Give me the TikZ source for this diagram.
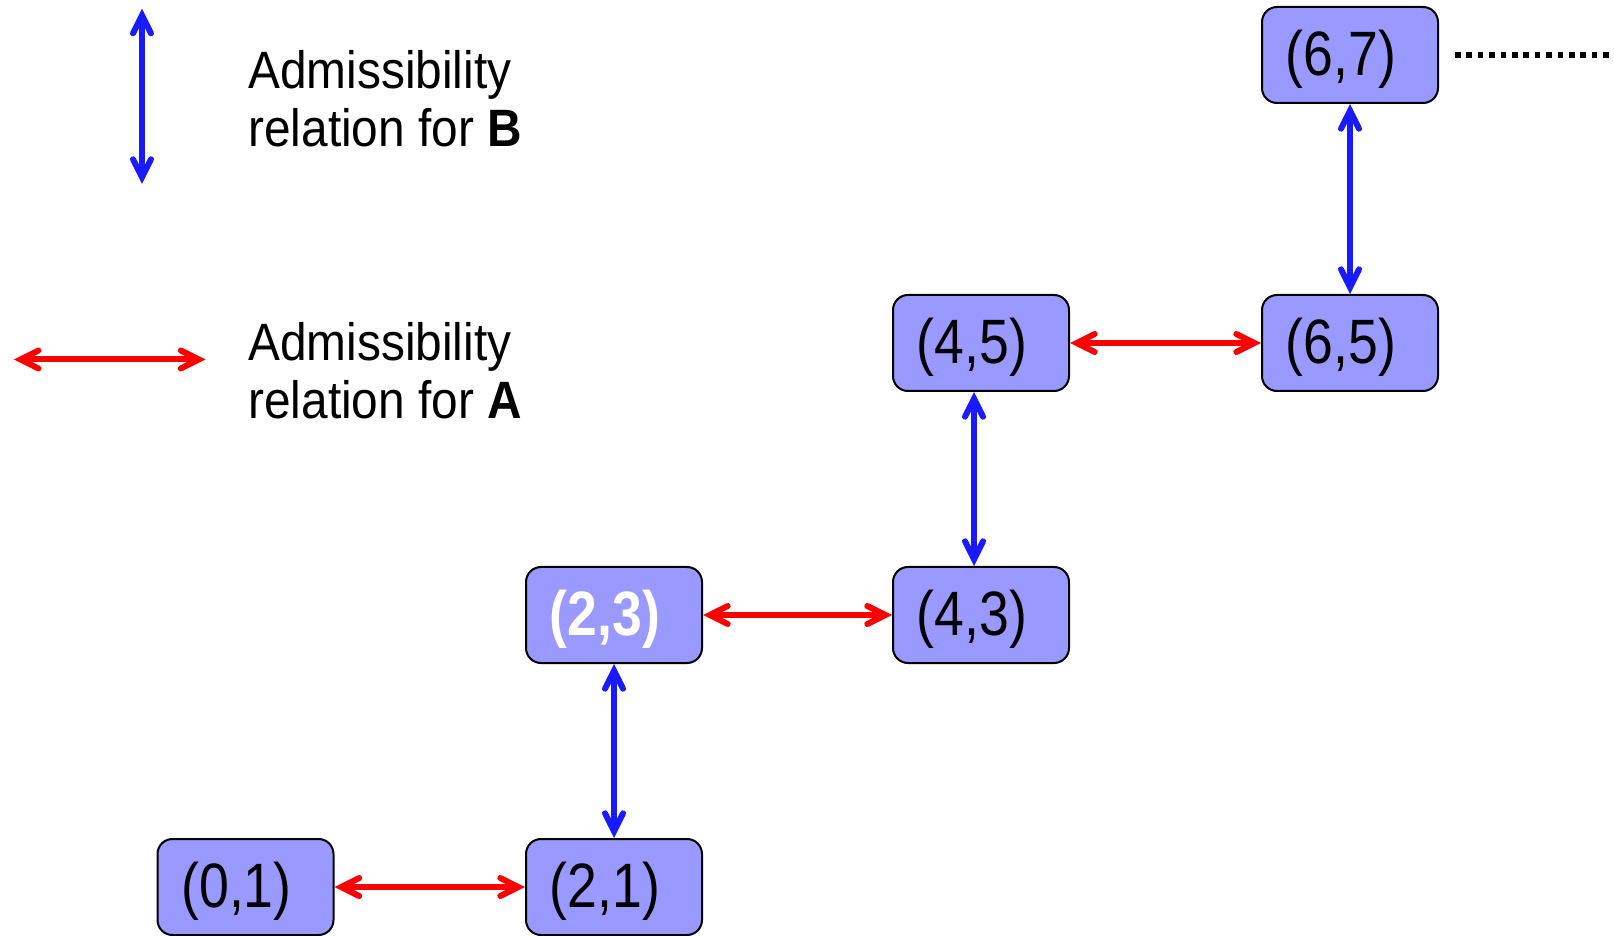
\documentclass[tikz,border=0pt]{standalone}
\usepackage{fontspec}
\setmainfont{Liberation Sans}
\usetikzlibrary{arrows.meta}
\definecolor{boxfill}{RGB}{153,153,255}
\definecolor{arrblue}{RGB}{26,26,255}
\definecolor{arrred}{RGB}{255,0,0}
\newcommand{\nodetxt}[1]{\raisebox{-2pt}[\height][\depth]{\scalebox{1}[1.17]{#1}}\kern9pt}
\newcommand{\legtxt}[2]{\scalebox{1}[1.1]{\fontsize{23.9pt}{26.3pt}\selectfont\begin{tabular}[t]{@{}l@{}}#1\\#2\end{tabular}}}
\tikzset{
  barb/.tip={Straight Barb[length=9pt,width=9pt,line cap=round,line join=miter]},
  state/.style={draw=black, line width=1pt, fill=boxfill, rounded corners=7.5pt,
    minimum width=88pt, minimum height=48pt, inner sep=0pt,
    font=\fontsize{26.8pt}{30pt}\selectfont},
  relA/.style={draw=arrred, line width=3pt, barb-barb},
  relB/.style={draw=arrblue, line width=3pt, barb-barb},
  legend/.style={anchor=base west, inner sep=0pt},
  etc/.style={draw=black, line width=2.8pt, dash pattern=on 2.8pt off 2.9pt}
}
\begin{document}
\begin{tikzpicture}[x=0.5pt,y=-0.5pt]
\useasboundingbox (0,0) rectangle (1614,936);
% legend
\coordinate (bTop) at (142,8.6);
\coordinate (bBot) at (142,184);
\draw[relB] (bTop) -- (bBot);
\node[legend] (legB) at (248,89) {\legtxt{Admissibility}{relation for \textbf{B}}};
\coordinate (aL) at (13.8,359.5);
\coordinate (aR) at (205.5,359.5);
\draw[relA] (aL) -- (aR);
\node[legend] (legA) at (248,361) {\legtxt{Admissibility}{relation for \textbf{A}}};
% states
\node[state] (n01) at (245.5,887) {\nodetxt{(0,1)}};
\node[state] (n21) at (614,887) {\nodetxt{(2,1)}};
\node[state, text=white, font=\fontsize{26.8pt}{30pt}\selectfont\bfseries] (n23) at (614,615) {\nodetxt{(2,3)}};
\node[state] (n43) at (981,615) {\nodetxt{(4,3)}};
\node[state] (n45) at (981,343) {\nodetxt{(4,5)}};
\node[state] (n65) at (1350,343) {\nodetxt{(6,5)}};
\node[state] (n67) at (1350,55) {\nodetxt{(6,7)}};
% relations
\draw[relA] (n01) -- (n21);
\draw[relB] (n21) -- (n23);
\draw[relA] (n23) -- (n43);
\draw[relB] ([xshift=-3.5pt]n43.north) -- ([xshift=-3.5pt]n45.south);
\draw[relA] (n45) -- (n65);
\draw[relB] (n65) -- (n67);
\coordinate (dotEnd) at (1614,55);
\draw[etc] ([xshift=8pt]n67.east) -- (dotEnd);
\end{tikzpicture}
\end{document}
